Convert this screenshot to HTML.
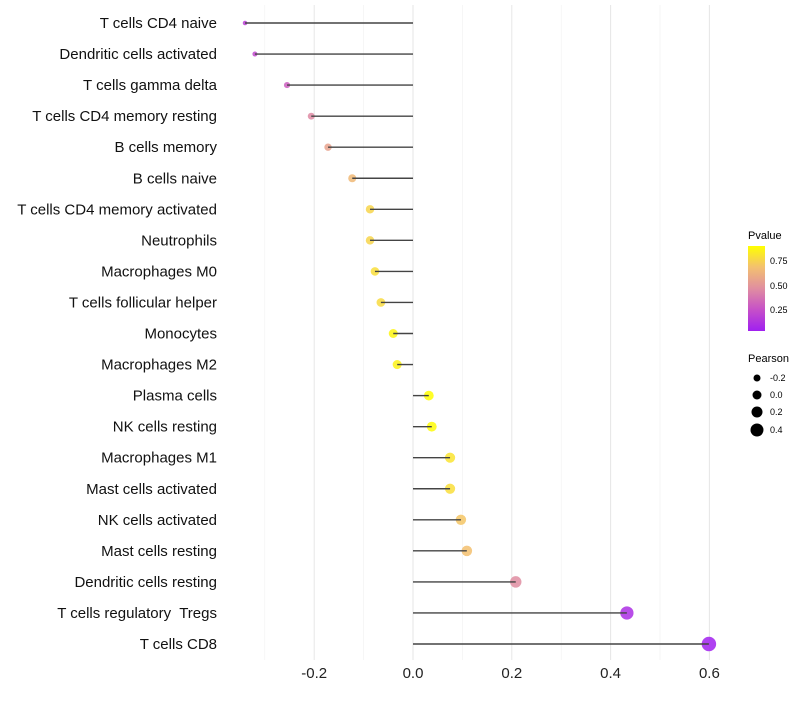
<!DOCTYPE html>
<html><head><meta charset="utf-8"><style>
body{margin:0;background:#fff;font-family:"Liberation Sans",sans-serif}
text{white-space:pre}
</style></head><body>
<svg id="chart" width="800" height="700" xmlns="http://www.w3.org/2000/svg" font-family="Liberation Sans, sans-serif">
<defs><linearGradient id="pg" x1="0" y1="1" x2="0" y2="0">
<stop offset="0" stop-color="#a020f0"/><stop offset="0.25" stop-color="#c650c8"/><stop offset="0.5" stop-color="#e08ea0"/><stop offset="0.75" stop-color="#f3c070"/><stop offset="1" stop-color="#ffff00"/></linearGradient></defs>
<g id="grid"></g>
<g id="dots"></g>
<g id="marks"></g>
<g id="labels"></g>
<g id="xticks"></g>
<g>
<text x="748" y="239" font-size="11" fill="#000">Pvalue</text>
<rect x="748" y="246" width="17" height="85" fill="url(#pg)"/>
<text x="770" y="264" font-size="9">0.75</text>
<text x="770" y="289" font-size="9">0.50</text>
<text x="770" y="313" font-size="9">0.25</text>
</g>
<g>
<text x="748" y="362" font-size="11">Pearson</text>
<circle cx="757" cy="378" r="3.5"/><text x="770" y="381" font-size="9">-0.2</text>
<circle cx="757" cy="395" r="4.5"/><text x="770" y="398" font-size="9">0.0</text>
<circle cx="757" cy="412" r="5.5"/><text x="770" y="415" font-size="9">0.2</text>
<circle cx="757" cy="430" r="6.5"/><text x="770" y="433" font-size="9">0.4</text>
</g>
</svg>
<script>
const categories=["T cells CD4 naive","Dendritic cells activated","T cells gamma delta","T cells CD4 memory resting","B cells memory","B cells naive","T cells CD4 memory activated","Neutrophils","Macrophages M0","T cells follicular helper","Monocytes","Macrophages M2","Plasma cells","NK cells resting","Macrophages M1","Mast cells activated","NK cells activated","Mast cells resting","Dendritic cells resting","T cells regulatory  Tregs","T cells CD8"];
const pearson=[-0.34,-0.32,-0.255,-0.206,-0.172,-0.123,-0.087,-0.087,-0.077,-0.065,-0.040,-0.032,0.032,0.038,0.075,0.075,0.097,0.109,0.208,0.433,0.599];
const pvalue=[0.18,0.22,0.3,0.45,0.55,0.65,0.75,0.75,0.78,0.77,0.86,0.85,0.89,0.88,0.8,0.78,0.7,0.68,0.46,0.1,0.04];
const xTicks=[-0.2,0.0,0.2,0.4,0.6];
const xMinor=[-0.3,-0.1,0.1,0.3,0.5];
const NS="http://www.w3.org/2000/svg";
const xs=v=>413+v*494;
const ys=i=>23+i*31.05;
const rs=v=>Math.sqrt(Math.max(1,22.25+50*v));
const stops=[[0,[160,32,240]],[0.25,[198,80,200]],[0.5,[224,142,160]],[0.75,[243,192,112]],[1,[255,255,0]]];
function col(p){let t=Math.min(1,Math.max(0,(p-0.036)/0.857));for(let k=1;k<stops.length;k++){if(t<=stops[k][0]){const a=stops[k-1],b=stops[k],f=(t-a[0])/(b[0]-a[0]);return "rgb("+a[1].map((c,j)=>Math.round(c+(b[1][j]-c)*f)).join(",")+")";}}return "rgb(255,255,0)";}
function mk(tag,at,parent){const e=document.createElementNS(NS,tag);for(const k in at)e.setAttribute(k,at[k]);document.getElementById(parent).appendChild(e);return e;}
xMinor.forEach(v=>{const l=mk("line",{x1:xs(v),x2:xs(v),y1:5,y2:660,stroke:"#f0f0f0","stroke-width":0.6},"grid");

});
xTicks.forEach(v=>{const l=mk("line",{x1:xs(v),x2:xs(v),y1:5,y2:660,stroke:"#e6e6e6","stroke-width":1},"grid");


const t=mk("text",{x:xs(v),y:678,"font-size":15,"text-anchor":"middle",fill:"#222"},"xticks");t.textContent=v.toFixed(1);

});
categories.forEach((c,i)=>{const y=ys(i);
const d=mk("circle",{cx:xs(pearson[i]),cy:y,r:rs(pearson[i]),fill:col(pvalue[i]),"fill-opacity":0.85},"dots");


const s=mk("line",{x1:xs(0),x2:xs(pearson[i]),y1:y,y2:y,stroke:"#444","stroke-width":1.4},"marks");


const t=mk("text",{x:217,y:y+5,"font-size":15,"text-anchor":"end",fill:"#111"},"labels");t.textContent=c;

});
</script>
</body></html>
